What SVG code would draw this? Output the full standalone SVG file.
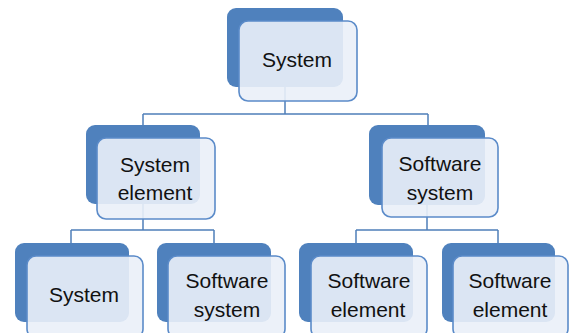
<svg xmlns="http://www.w3.org/2000/svg" width="569" height="333" viewBox="0 0 569 333">
<style>
.back{fill:#4f81bd;}
.front{fill:#eaeff8;fill-opacity:0.9;stroke:#5b8bc9;stroke-width:1.6;}
.conn{fill:none;stroke:#4f7fb9;stroke-width:1.5;}
text{font-family:"Liberation Sans",Arial,sans-serif;font-size:21px;fill:#111111;text-anchor:middle;}
</style>
<rect width="569" height="333" fill="#ffffff"/>
<g id="connectors">
<path class="conn" d="M285,87 V114 M143,114 H428 M143,114 V125 M428,114 V125"/>
<path class="conn" d="M143,204 V230 M71,230 H214 M71,230 V243 M214,230 V243"/>
<path class="conn" d="M427,205 V230 M356,230 H498 M356,230 V243 M498,230 V243"/>
</g>
<g id="n-system-top">
<rect class="back" x="227" y="8" width="116" height="79" rx="9"/>
<rect class="front" x="239" y="21" width="118" height="80" rx="9"/>
<text x="297" y="67">System</text>
</g>
<g id="n-system-element">
<rect class="back" x="86" y="125" width="114" height="79" rx="9"/>
<rect class="front" x="97" y="138" width="118" height="81" rx="9"/>
<text x="155" y="172">System</text>
<text x="155" y="200">element</text>
</g>
<g id="n-software-system">
<rect class="back" x="369" y="125" width="116" height="80" rx="9"/>
<rect class="front" x="382" y="138" width="116" height="79" rx="9"/>
<text x="440" y="171">Software</text>
<text x="440" y="200">system</text>
</g>
<g id="n-system-bottom">
<rect class="back" x="15" y="243" width="114" height="79" rx="9"/>
<rect class="front" x="27" y="256" width="116" height="82" rx="9"/>
<text x="84" y="302">System</text>
</g>
<g id="n-software-system-bottom">
<rect class="back" x="157" y="243" width="114" height="79" rx="9"/>
<rect class="front" x="168" y="256" width="117" height="82" rx="9"/>
<text x="227" y="288">Software</text>
<text x="227" y="317">system</text>
</g>
<g id="n-software-element-1">
<rect class="back" x="299" y="243" width="114" height="79" rx="9"/>
<rect class="front" x="311" y="256" width="116" height="82" rx="9"/>
<text x="369" y="288">Software</text>
<text x="368" y="317">element</text>
</g>
<g id="n-software-element-2">
<rect class="back" x="442" y="243" width="113" height="79" rx="9"/>
<rect class="front" x="453" y="256" width="115" height="82" rx="9"/>
<text x="510" y="288">Software</text>
<text x="510" y="317">element</text>
</g>
</svg>
